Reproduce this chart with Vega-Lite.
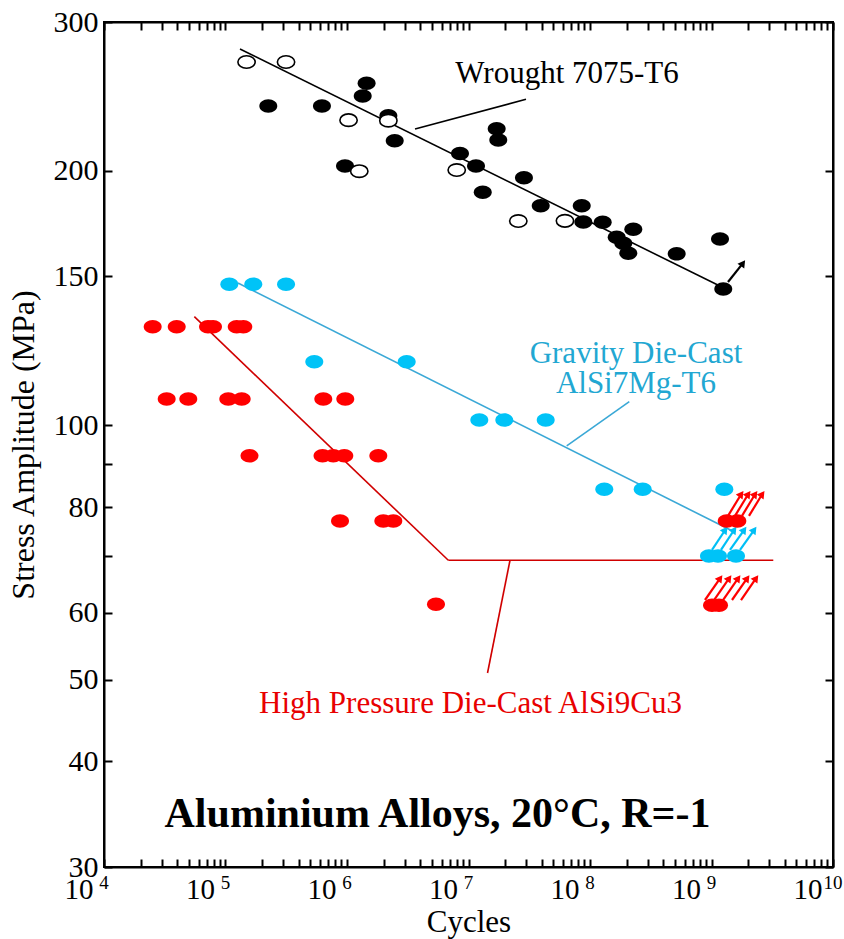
{
  "$schema": "https://vega.github.io/schema/vega-lite/v6.json",
  "width": 729,
  "height": 845,
  "autosize": {"type": "none"},
  "padding": {"left": 104, "top": 22, "right": 11, "bottom": 72},
  "background": "white",
  "config": {
    "font": "Liberation Serif",
    "view": {"stroke": "black", "strokeWidth": 2},
    "axis": {
      "domainColor": "black", "domainWidth": 2, "tickColor": "black", "tickWidth": 2,
      "labelColor": "black", "titleColor": "black", "labelFont": "Liberation Serif",
      "titleFont": "Liberation Serif", "titleFontWeight": "normal", "grid": false,
      "labelFlush": false, "labelOverlap": false, "labelBound": false
    }
  },
  "datasets": {
    "lines": [
      {"series": "W", "x": 131600, "y": 278.7, "x2": 1315000000, "y2": 144.9},
      {"series": "W", "x": 3630000, "y": 224.1, "x2": 29740000, "y2": 243.0},
      {"series": "G", "x": 126700, "y": 147.3, "x2": 1447000000, "y2": 75.1},
      {"series": "G", "x": 64300000, "y": 94.5, "x2": 210600000, "y2": 106.6},
      {"series": "H", "x": 55400, "y": 134.4, "x2": 6820000, "y2": 69.2},
      {"series": "H", "x": 6820000, "y": 69.2, "x2": 3225000000, "y2": 69.2},
      {"series": "H", "x": 21960000, "y": 69.2, "x2": 14340000, "y2": 50.9}
    ],
    "points": [
      {"series": "W", "symbol": "open", "x": 149000, "y": 269},
      {"series": "W", "symbol": "open", "x": 315000, "y": 269},
      {"series": "W", "symbol": "open", "x": 1030000, "y": 229.6},
      {"series": "W", "symbol": "open", "x": 1262000, "y": 199.8},
      {"series": "W", "symbol": "open", "x": 2190000, "y": 229.3},
      {"series": "W", "symbol": "open", "x": 8000000, "y": 200.4},
      {"series": "W", "symbol": "open", "x": 25700000, "y": 174.4},
      {"series": "W", "symbol": "open", "x": 62200000, "y": 174.5},
      {"series": "W", "symbol": "filled", "x": 225000, "y": 238.7},
      {"series": "W", "symbol": "filled", "x": 622000, "y": 238.7},
      {"series": "W", "symbol": "filled", "x": 963000, "y": 202.6},
      {"series": "W", "symbol": "filled", "x": 1347000, "y": 245.2},
      {"series": "W", "symbol": "filled", "x": 1450000, "y": 253.9},
      {"series": "W", "symbol": "filled", "x": 2190000, "y": 232.3},
      {"series": "W", "symbol": "filled", "x": 2470000, "y": 217.1},
      {"series": "W", "symbol": "filled", "x": 8510000, "y": 209.7},
      {"series": "W", "symbol": "filled", "x": 11530000, "y": 202.6},
      {"series": "W", "symbol": "filled", "x": 13100000, "y": 188.6},
      {"series": "W", "symbol": "filled", "x": 17060000, "y": 224.3},
      {"series": "W", "symbol": "filled", "x": 17580000, "y": 217.5},
      {"series": "W", "symbol": "filled", "x": 28600000, "y": 196.2},
      {"series": "W", "symbol": "filled", "x": 39300000, "y": 181.8},
      {"series": "W", "symbol": "filled", "x": 85500000, "y": 181.8},
      {"series": "W", "symbol": "filled", "x": 88100000, "y": 173.9},
      {"series": "W", "symbol": "filled", "x": 127200000, "y": 173.8},
      {"series": "W", "symbol": "filled", "x": 227200000, "y": 170.5},
      {"series": "W", "symbol": "filled", "x": 165900000, "y": 166.9},
      {"series": "W", "symbol": "filled", "x": 187900000, "y": 164.2},
      {"series": "W", "symbol": "filled", "x": 206600000, "y": 159.8},
      {"series": "W", "symbol": "filled", "x": 517000000, "y": 159.5},
      {"series": "W", "symbol": "filled", "x": 1175000000, "y": 166.1},
      {"series": "W", "symbol": "filled", "x": 1250000000, "y": 144.9},
      {"series": "G", "symbol": "filled", "x": 107500, "y": 146.8},
      {"series": "G", "symbol": "filled", "x": 169300, "y": 146.8},
      {"series": "G", "symbol": "filled", "x": 315000, "y": 146.8},
      {"series": "G", "symbol": "filled", "x": 538000, "y": 118.9},
      {"series": "G", "symbol": "filled", "x": 3100000, "y": 118.9},
      {"series": "G", "symbol": "filled", "x": 12270000, "y": 101.4},
      {"series": "G", "symbol": "filled", "x": 19710000, "y": 101.4},
      {"series": "G", "symbol": "filled", "x": 43200000, "y": 101.4},
      {"series": "G", "symbol": "filled", "x": 131100000, "y": 84.0},
      {"series": "G", "symbol": "filled", "x": 271500000, "y": 84.0},
      {"series": "G", "symbol": "filled", "x": 1275000000, "y": 84.0},
      {"series": "G", "symbol": "filled", "x": 953000000, "y": 70.0},
      {"series": "G", "symbol": "filled", "x": 1131000000, "y": 70.0},
      {"series": "G", "symbol": "filled", "x": 1591000000, "y": 70.0},
      {"series": "H", "symbol": "filled", "x": 25160, "y": 130.8},
      {"series": "H", "symbol": "filled", "x": 39670, "y": 130.8},
      {"series": "H", "symbol": "filled", "x": 71800, "y": 130.8},
      {"series": "H", "symbol": "filled", "x": 78900, "y": 130.8},
      {"series": "H", "symbol": "filled", "x": 123700, "y": 130.8},
      {"series": "H", "symbol": "filled", "x": 140100, "y": 130.8},
      {"series": "H", "symbol": "filled", "x": 32800, "y": 107.4},
      {"series": "H", "symbol": "filled", "x": 49400, "y": 107.4},
      {"series": "H", "symbol": "filled", "x": 105400, "y": 107.4},
      {"series": "H", "symbol": "filled", "x": 135900, "y": 107.4},
      {"series": "H", "symbol": "filled", "x": 638000, "y": 107.4},
      {"series": "H", "symbol": "filled", "x": 968000, "y": 107.4},
      {"series": "H", "symbol": "filled", "x": 157600, "y": 92.0},
      {"series": "H", "symbol": "filled", "x": 629000, "y": 92.0},
      {"series": "H", "symbol": "filled", "x": 771000, "y": 92.0},
      {"series": "H", "symbol": "filled", "x": 950000, "y": 92.0},
      {"series": "H", "symbol": "filled", "x": 1810000, "y": 92.0},
      {"series": "H", "symbol": "filled", "x": 876000, "y": 77.0},
      {"series": "H", "symbol": "filled", "x": 1990000, "y": 77.0},
      {"series": "H", "symbol": "filled", "x": 2405000, "y": 77.0},
      {"series": "H", "symbol": "filled", "x": 5400000, "y": 61.4},
      {"series": "H", "symbol": "filled", "x": 1334000000, "y": 77.0},
      {"series": "H", "symbol": "filled", "x": 1631000000, "y": 77.0},
      {"series": "H", "symbol": "filled", "x": 1010000000, "y": 61.2},
      {"series": "H", "symbol": "filled", "x": 1153000000, "y": 61.2}
    ],
    "arrows": [
      {"series": "W", "x": 1367000000, "y": 147.7, "x2": 1816000000, "y2": 155.5},
      {"series": "G", "x": 1010000000, "y": 71.2, "x2": 1300000000, "y2": 75.2},
      {"series": "G", "x": 1197000000, "y": 71.2, "x2": 1540000000, "y2": 75.2},
      {"series": "G", "x": 1420000000, "y": 71.2, "x2": 1860000000, "y2": 75.2},
      {"series": "G", "x": 1717000000, "y": 71.2, "x2": 2250000000, "y2": 75.2},
      {"series": "H", "x": 1367000000, "y": 78.1, "x2": 1760000000, "y2": 82.9},
      {"series": "H", "x": 1561000000, "y": 78.1, "x2": 2010000000, "y2": 82.9},
      {"series": "H", "x": 1782000000, "y": 78.1, "x2": 2290000000, "y2": 82.9},
      {"series": "H", "x": 2035000000, "y": 78.1, "x2": 2620000000, "y2": 82.9},
      {"series": "H", "x": 884000000, "y": 62.1, "x2": 1180000000, "y2": 65.9},
      {"series": "H", "x": 1049000000, "y": 62.1, "x2": 1400000000, "y2": 65.9},
      {"series": "H", "x": 1244000000, "y": 62.1, "x2": 1660000000, "y2": 65.9},
      {"series": "H", "x": 1475000000, "y": 62.1, "x2": 1970000000, "y2": 65.9},
      {"series": "H", "x": 1749000000, "y": 62.1, "x2": 2330000000, "y2": 65.9}
    ],
    "labels": [
      {"series": "W", "x": 64700000, "y": 254.1, "text": "Wrought 7075-T6"},
      {"series": "G", "x": 239000000, "y": 118.4, "text": "Gravity Die-Cast"},
      {"series": "G", "x": 239000000, "y": 109.2, "text": "AlSi7Mg-T6"},
      {"series": "H", "x": 10390000, "y": 45.6, "text": "High Pressure Die-Cast AlSi9Cu3"}
    ],
    "title": [
      {"x": 5560000, "y": 33.5, "text": "Aluminium Alloys, 20°C, R=-1"}
    ],
    "exponents": [
      {"x": 10000, "y": 30, "text": "4"},
      {"x": 100000, "y": 30, "text": "5"},
      {"x": 1000000, "y": 30, "text": "6"},
      {"x": 10000000, "y": 30, "text": "7"},
      {"x": 100000000, "y": 30, "text": "8"},
      {"x": 1000000000, "y": 30, "text": "9"},
      {"x": 10000000000, "y": 30, "text": "10"}
    ]
  },
  "layer": [
    {
      "data": {"name": "lines"},
      "mark": {"type": "rule", "strokeWidth": 1.6},
      "encoding": {
        "x": {
          "field": "x", "type": "quantitative",
          "scale": {"type": "log", "domain": [10000, 10000000000], "nice": false},
          "axis": {
            "orient": "bottom",
            "values": [10000,20000,30000,40000,50000,60000,70000,80000,90000,100000,200000,300000,400000,500000,600000,700000,800000,900000,1000000,2000000,3000000,4000000,5000000,6000000,7000000,8000000,9000000,10000000,20000000,30000000,40000000,50000000,60000000,70000000,80000000,90000000,100000000,200000000,300000000,400000000,500000000,600000000,700000000,800000000,900000000,1000000000,2000000000,3000000000,4000000000,5000000000,6000000000,7000000000,8000000000,9000000000,10000000000],
            "labelExpr": "abs(log(datum.value)/LN10 - round(log(datum.value)/LN10)) < 0.001 ? '10' : ''",
            "tickSize": -8, "labelPadding": 16, "labelFontSize": 29, "labelAlign": "right", "labelOffset": -11,
            "labelBaseline": "top",
            "title": "Cycles", "titleFontSize": 31, "titlePadding": 3
          }
        },
        "y": {
          "field": "y", "type": "quantitative",
          "scale": {"type": "log", "domain": [30, 300], "nice": false},
          "axis": {
            "orient": "left",
            "values": [30, 40, 50, 60, 70, 80, 90, 100, 150, 200, 300],
            "labelExpr": "datum.value == 70 || datum.value == 90 ? '' : format(datum.value, 'd')",
            "tickSize": -8, "labelPadding": 14, "labelFontSize": 30,
            "title": "Stress Amplitude (MPa)", "titleFontSize": 32, "titlePadding": 13
          }
        },
        "x2": {"field": "x2"},
        "y2": {"field": "y2"},
        "color": {
          "field": "series", "type": "nominal",
          "scale": {"domain": ["W", "G", "H"], "range": ["#000000", "#3aa8d6", "#d00000"]},
          "legend": null
        }
      }
    },
    {
      "data": {"name": "lines"},
      "mark": {"type": "rule", "opacity": 0},
      "encoding": {
        "x": {
          "field": "x", "type": "quantitative",
          "scale": {"type": "log", "domain": [10000, 10000000000], "nice": false},
          "axis": {
            "orient": "top", "labels": false, "title": null, "tickSize": -8,
            "values": [10000,20000,30000,40000,50000,60000,70000,80000,90000,100000,200000,300000,400000,500000,600000,700000,800000,900000,1000000,2000000,3000000,4000000,5000000,6000000,7000000,8000000,9000000,10000000,20000000,30000000,40000000,50000000,60000000,70000000,80000000,90000000,100000000,200000000,300000000,400000000,500000000,600000000,700000000,800000000,900000000,1000000000,2000000000,3000000000,4000000000,5000000000,6000000000,7000000000,8000000000,9000000000,10000000000]
          }
        },
        "y": {
          "field": "y", "type": "quantitative",
          "scale": {"type": "log", "domain": [30, 300], "nice": false},
          "axis": {
            "orient": "right", "labels": false, "title": null, "tickSize": -8,
            "values": [30, 40, 50, 60, 70, 80, 90, 100, 150, 200, 300]
          }
        }
      }
    },
    {
      "data": {"name": "exponents"},
      "mark": {"type": "text", "fontSize": 19, "font": "Liberation Serif", "align": "center", "baseline": "alphabetic", "dy": 22, "color": "black"},
      "encoding": {
        "x": {"field": "x", "type": "quantitative", "scale": {"type": "log", "domain": [10000, 10000000000], "nice": false}, "axis": null},
        "y": {"field": "y", "type": "quantitative", "scale": {"type": "log", "domain": [30, 300], "nice": false}, "axis": null},
        "text": {"field": "text"}
      }
    },
    {
      "data": {"name": "arrows"},
      "mark": {"type": "rule", "strokeWidth": 2.2},
      "encoding": {
        "x": {"field": "x", "type": "quantitative", "scale": {"type": "log", "domain": [10000, 10000000000], "nice": false}, "axis": null},
        "y": {"field": "y", "type": "quantitative", "scale": {"type": "log", "domain": [30, 300], "nice": false}, "axis": null},
        "x2": {"field": "x2"},
        "y2": {"field": "y2"},
        "color": {"field": "series", "type": "nominal", "scale": {"domain": ["W", "G", "H"], "range": ["#000000", "#00bff5", "#ff0000"]}, "legend": null}
      }
    },
    {
      "data": {"name": "arrows"},
      "mark": {"type": "point", "shape": "triangle-up", "filled": true, "opacity": 1, "size": 70, "angle": 36},
      "encoding": {
        "x": {"field": "x2", "type": "quantitative", "scale": {"type": "log", "domain": [10000, 10000000000], "nice": false}, "axis": null},
        "y": {"field": "y2", "type": "quantitative", "scale": {"type": "log", "domain": [30, 300], "nice": false}, "axis": null},
        "color": {"field": "series", "type": "nominal", "scale": {"domain": ["W", "G", "H"], "range": ["#000000", "#00bff5", "#ff0000"]}, "legend": null}
      }
    },
    {
      "data": {"name": "points"},
      "transform": [{"filter": "datum.symbol == 'filled'"}],
      "mark": {"type": "point", "shape": "M-1,0A1,0.75 0 1,0 1,0A1,0.75 0 1,0 -1,0Z", "filled": true, "opacity": 1, "size": 324},
      "encoding": {
        "x": {"field": "x", "type": "quantitative", "scale": {"type": "log", "domain": [10000, 10000000000], "nice": false}, "axis": null},
        "y": {"field": "y", "type": "quantitative", "scale": {"type": "log", "domain": [30, 300], "nice": false}, "axis": null},
        "color": {"field": "series", "type": "nominal", "scale": {"domain": ["W", "G", "H"], "range": ["#000000", "#00c3f7", "#ff0000"]}, "legend": null}
      }
    },
    {
      "data": {"name": "points"},
      "transform": [{"filter": "datum.symbol == 'open'"}],
      "mark": {"type": "point", "shape": "M-1,0A1,0.72 0 1,0 1,0A1,0.72 0 1,0 -1,0Z", "filled": true, "fill": "white", "stroke": "black", "strokeWidth": 1.6, "opacity": 1, "size": 300},
      "encoding": {
        "x": {"field": "x", "type": "quantitative", "scale": {"type": "log", "domain": [10000, 10000000000], "nice": false}, "axis": null},
        "y": {"field": "y", "type": "quantitative", "scale": {"type": "log", "domain": [30, 300], "nice": false}, "axis": null}
      }
    },
    {
      "data": {"name": "labels"},
      "mark": {"type": "text", "fontSize": 31, "font": "Liberation Serif", "align": "center", "baseline": "alphabetic"},
      "encoding": {
        "x": {"field": "x", "type": "quantitative", "scale": {"type": "log", "domain": [10000, 10000000000], "nice": false}, "axis": null},
        "y": {"field": "y", "type": "quantitative", "scale": {"type": "log", "domain": [30, 300], "nice": false}, "axis": null},
        "text": {"field": "text"},
        "color": {"field": "series", "type": "nominal", "scale": {"domain": ["W", "G", "H"], "range": ["#000000", "#22a7d2", "#e80000"]}, "legend": null}
      }
    },
    {
      "data": {"name": "title"},
      "mark": {"type": "text", "fontSize": 42, "fontWeight": "bold", "font": "Liberation Serif", "align": "center", "baseline": "alphabetic", "color": "black"},
      "encoding": {
        "x": {"field": "x", "type": "quantitative", "scale": {"type": "log", "domain": [10000, 10000000000], "nice": false}, "axis": null},
        "y": {"field": "y", "type": "quantitative", "scale": {"type": "log", "domain": [30, 300], "nice": false}, "axis": null},
        "text": {"field": "text"}
      }
    }
  ],
  "resolve": {"scale": {"color": "independent"}, "axis": {"x": "independent", "y": "independent"}}
}
